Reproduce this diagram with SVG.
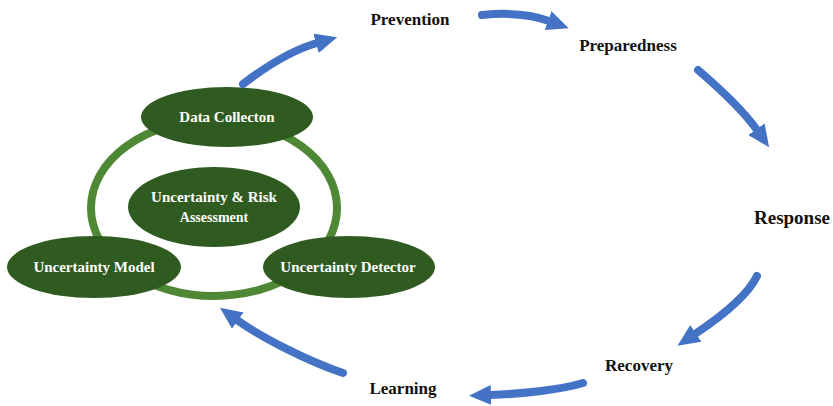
<svg xmlns="http://www.w3.org/2000/svg" width="833" height="406" viewBox="0 0 833 406">
<style>
.node{fill:#2f5b20;}
.ring{fill:none;stroke:#4f8834;stroke-width:8;}
.wt{font-family:"Liberation Serif","Times New Roman",serif;font-weight:bold;font-size:15px;fill:#ffffff;text-anchor:middle;}
.lbl{font-family:"Liberation Serif","Times New Roman",serif;font-weight:bold;font-size:17px;fill:#111111;text-anchor:middle;}
.arr{fill:none;stroke:#4472c4;stroke-width:8;stroke-linecap:round;marker-end:url(#head);}
</style>
<defs>
<marker id="head" markerUnits="userSpaceOnUse" viewBox="0 0 22 20" markerWidth="22" markerHeight="20" refX="1" refY="10" orient="auto">
<path d="M0,0 L22,10 L0,20 Z" fill="#4472c4"/>
</marker>
</defs>
<rect width="833" height="406" fill="#ffffff"/>
<g id="cycle-ring">
<ellipse class="ring" cx="214" cy="208" rx="123" ry="88"/>
</g>
<g id="node-data-collection">
<ellipse class="node" cx="227" cy="117" rx="86" ry="30"/>
<text class="wt" x="227" y="122">Data Collecton</text>
</g>
<g id="node-assessment">
<ellipse class="node" cx="214" cy="207" rx="86" ry="40"/>
<text class="wt" x="214" y="202">Uncertainty &amp; Risk</text>
<text class="wt" x="214" y="222" style="font-size:14px">Assessment</text>
</g>
<g id="node-uncertainty-model">
<ellipse class="node" cx="94" cy="267" rx="87" ry="31"/>
<text class="wt" x="94" y="272">Uncertainty Model</text>
</g>
<g id="node-uncertainty-detector">
<ellipse class="node" cx="349" cy="267" rx="86" ry="31"/>
<text class="wt" x="348" y="272">Uncertainty Detector</text>
</g>
<g id="node-prevention"><text class="lbl" x="410" y="25">Prevention</text></g>
<g id="node-preparedness"><text class="lbl" x="628" y="51">Preparedness</text></g>
<g id="node-response"><text class="lbl" x="792" y="224" style="font-size:19px">Response</text></g>
<g id="node-recovery"><text class="lbl" x="639" y="371">Recovery</text></g>
<g id="node-learning"><text class="lbl" x="403" y="394">Learning</text></g>
<g id="connectors">
<path class="arr" d="M243,84 Q285,52 317,43"/>
<path class="arr" d="M482,15 Q522,11 549,21"/>
<path class="arr" d="M698,70 Q740,106 757,130"/>
<path class="arr" d="M757,276 C747,297 716,320 695,334"/>
<path class="arr" d="M583,383 C560,390 520,394 490,395"/>
<path class="arr" d="M343,373 C310,362 262,338 237,320"/>
</g>
</svg>
